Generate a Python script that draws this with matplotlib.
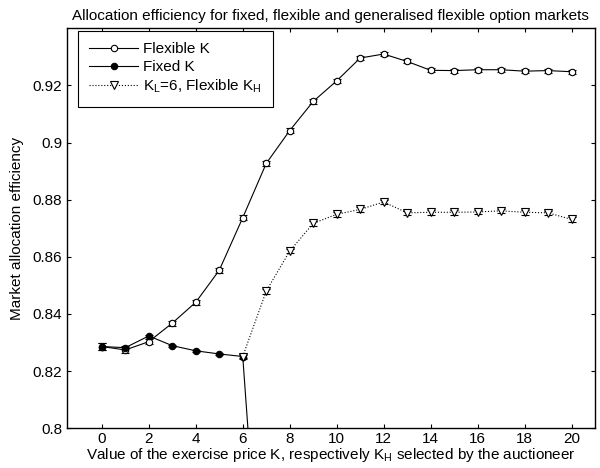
import matplotlib
matplotlib.use("Agg")
import matplotlib.pyplot as plt
from matplotlib.lines import Line2D
from matplotlib.ticker import FormatStrFormatter

# --- data ---
k_flex = list(range(0, 21))
eff_flex = [0.8286, 0.8274, 0.8303, 0.8368, 0.8441, 0.8553, 0.8737, 0.8927, 0.9042,
            0.9144, 0.9216, 0.9296, 0.9310, 0.9284, 0.9253, 0.9252, 0.9255, 0.9255,
            0.9250, 0.9252, 0.9248]
err_flex = [0.0012, 0.0010, 0.0009, 0.0009, 0.0009, 0.0009, 0.0009, 0.0008, 0.0008,
            0.0008, 0.0007, 0.0007, 0.0007, 0.0007, 0.0007, 0.0007, 0.0007, 0.0007,
            0.0007, 0.0007, 0.0007]

k_fixed = [0, 1, 2, 3, 4, 5, 6, 7]
eff_fixed = [0.8286, 0.8282, 0.8323, 0.8289, 0.8271, 0.8260, 0.8251, 0.711]
err_fixed = [0.0012, 0.0006, 0.0005, 0.0004, 0.0004, 0.0004, 0.0004, 0.0004]

k_gen = list(range(6, 21))
eff_gen = [0.8251, 0.8480, 0.8620, 0.8717, 0.8749, 0.8766, 0.8792, 0.8754, 0.8756,
           0.8756, 0.8757, 0.8761, 0.8756, 0.8754, 0.8731]
err_gen = [0.0009, 0.0009, 0.0008, 0.0008, 0.0008, 0.0008, 0.0008, 0.0008, 0.0008,
           0.0008, 0.0008, 0.0008, 0.0008, 0.0008, 0.0008]

FS = 11
plt.rcParams['font.family'] = ['Liberation Sans', 'DejaVu Sans']
plt.rcParams['font.size'] = FS
plt.rcParams['mathtext.default'] = 'regular'

fig = plt.figure(figsize=(6, 4.68), dpi=100)
ax = fig.add_axes([0.111, 0.085, 0.8807, 0.8545])

common = dict(color='black', ecolor='black', elinewidth=0.8, capsize=3, capthick=0.8,
              markeredgecolor='black', markeredgewidth=0.8)

ax.errorbar(k_flex, eff_flex, yerr=err_flex, marker='o', linestyle='-', linewidth=0.8,
            markersize=4.6, markerfacecolor='white', **common)
ax.errorbar(k_fixed, eff_fixed, yerr=err_fixed, marker='o', linestyle='-', linewidth=0.8,
            markersize=4.6, markerfacecolor='black', **common)
ax.errorbar(k_gen, eff_gen, yerr=err_gen, marker='v', linestyle=':', linewidth=0.8,
            markersize=5.5, markerfacecolor='white', **common)

ax.set_xlim(-1.5, 21)
ax.set_ylim(0.8, 0.94)
ax.set_xticks(range(0, 21, 2))
ax.set_yticks([0.8, 0.82, 0.84, 0.86, 0.88, 0.9, 0.92])
ax.yaxis.set_major_formatter(FormatStrFormatter('%g'))
ax.tick_params(direction='in', top=True, right=True, length=3, width=0.8, labelsize=FS, pad=3)
for s in ax.spines.values():
    s.set_linewidth(1.0)

ax.set_title('Allocation efficiency for fixed, flexible and generalised flexible option markets',
             fontsize=FS, pad=6)
ax.set_xlabel(r'Value of the exercise price K, respectively $K_H$ selected by the auctioneer',
              fontsize=FS, labelpad=0)
ax.set_ylabel('Market allocation efficiency', fontsize=FS, labelpad=6)

handles = [
    Line2D([], [], color='black', lw=0.8, marker='o', ms=4.6, mfc='white', mec='black', mew=0.8),
    Line2D([], [], color='black', lw=0.8, marker='o', ms=4.6, mfc='black', mec='black', mew=0.8),
    Line2D([], [], color='black', lw=0.8, ls=':', marker='v', ms=5.5, mfc='white', mec='black', mew=0.8),
]
labels = ['Flexible K', 'Fixed K', r'$K_L$=6, Flexible $K_H$']
leg = ax.legend(handles, labels, loc='upper left', bbox_to_anchor=(0.021, 0.994),
                fancybox=False, edgecolor='black', framealpha=1, fontsize=FS,
                borderaxespad=0, handlelength=3.2, labelspacing=0.25,
                borderpad=0.75, handletextpad=0.3)
leg.get_frame().set_linewidth(0.8)

fig.savefig('out.png', dpi=100)
